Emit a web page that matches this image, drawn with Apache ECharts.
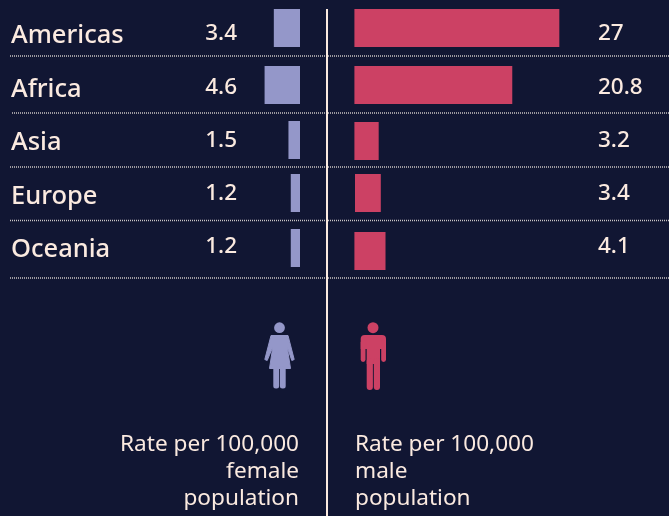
<!DOCTYPE html>
<html>
<head>
<meta charset="utf-8">
<style>
html,body{margin:0;padding:0;background:#111633;}
#main{width:669px;height:516px;}
</style>
<script src="https://cdn.jsdelivr.net/npm/echarts@6/dist/echarts.min.js"></script>
</head>
<body>
<div id="main"></div>
<script>
var regions = ['Americas', 'Africa', 'Asia', 'Europe', 'Oceania'];
var femaleRate = [3.4, 4.6, 1.5, 1.2, 1.2];
var maleRate = [27, 20.8, 3.2, 3.4, 4.1];

// row layout, the rows of the original are not evenly spaced or even aligned across the centre
var rowTopLeft = [9, 66, 121, 174, 229];
var rowTopRight = [9, 66, 122, 174, 232];
var rowRightLeft = [354.4, 354.4, 354.4, 355, 354.4];
var nameY = [36, 90, 143, 197, 250];
var valueY = [33.5, 87.5, 140.5, 193.5, 246.5];
var ruleY = [56, 113, 167, 220.5, 278];
var ruleX = [10, 12, 10, 10, 10];

var bg = '#111633', ink = '#fbeae0', lilac = '#9497c9', red = '#cc4164';
var font = '"Noto Sans", "Open Sans", sans-serif';
var maxRate = 30;

var grid = [], xAxis = [], yAxis = [], series = [], graphic = [];

function addBar(index, left, top, width, inverse, value, color, name) {
    grid.push({left: left, top: top, width: width, height: 38});
    xAxis.push({gridIndex: grid.length - 1, type: 'value', min: 0, max: maxRate, inverse: inverse, show: false});
    yAxis.push({gridIndex: grid.length - 1, type: 'category', data: [regions[index]], show: false});
    series.push({
        name: name,
        type: 'bar',
        xAxisIndex: grid.length - 1,
        yAxisIndex: grid.length - 1,
        barWidth: 38,
        silent: true,
        itemStyle: {color: color},
        data: [value]
    });
}

function addText(text, x, y, size, align, weight) {
    graphic.push({
        type: 'text', x: x, y: y, silent: true,
        style: {text: text, fill: ink, font: weight + ' ' + size + 'px ' + font, textAlign: align, textVerticalAlign: 'middle'}
    });
}

regions.forEach(function (name, i) {
    addBar(i, 69, rowTopLeft[i], 231, true, femaleRate[i], lilac, 'Female');
    addBar(i, rowRightLeft[i], rowTopRight[i], 227.7, false, maleRate[i], red, 'Male');

    addText(name, 11, nameY[i], 25.5, 'left', 500);
    addText(String(femaleRate[i]), 237, valueY[i], 22.5, 'right', 500);
    addText(String(maleRate[i]), 598, valueY[i], 22.5, 'left', 500);

    graphic.push({
        type: 'line', silent: true,
        shape: {x1: ruleX[i], y1: ruleY[i], x2: 669, y2: ruleY[i]},
        style: {stroke: '#c9c4c4', lineWidth: 1.5, lineDash: [1, 1]}
    });
});

// centre line
graphic.push({
    type: 'line', silent: true, z: 10,
    shape: {x1: 327, y1: 9, x2: 327, y2: 516},
    style: {stroke: ink, lineWidth: 2}
});

// captions
addText('Rate per 100,000', 299, 445, 22.6, 'right', 400);
addText('female', 299, 472, 22.6, 'right', 400);
addText('population', 299, 499, 22.6, 'right', 400);
addText('Rate per 100,000', 355, 445, 22.6, 'left', 400);
addText('male', 355, 472, 22.6, 'left', 400);
addText('population', 355, 499, 22.6, 'left', 400);

// female icon
graphic.push({type: 'circle', silent: true, shape: {cx: 279.5, cy: 327.7, r: 5.4}, style: {fill: lilac}});
graphic.push({
    type: 'polygon', silent: true,
    shape: {points: [[271, 335.5], [288, 335.5], [294.2, 359.5], [291.8, 360.5], [287.2, 347], [290.5, 368.5], [269.5, 368.5], [272.8, 347], [267.2, 360.5], [264.8, 359.5]]},
    style: {fill: lilac, stroke: lilac, lineWidth: 1, lineJoin: 'round'}
});
graphic.push({type: 'rect', silent: true, shape: {x: 273.3, y: 366, width: 5.8, height: 22.5, r: 2.5}, style: {fill: lilac}});
graphic.push({type: 'rect', silent: true, shape: {x: 279.9, y: 366, width: 5.8, height: 22.5, r: 2.5}, style: {fill: lilac}});

// male icon
graphic.push({type: 'circle', silent: true, shape: {cx: 373, cy: 327.7, r: 5.5}, style: {fill: red}});
graphic.push({type: 'rect', silent: true, shape: {x: 360.7, y: 335, width: 25.3, height: 14, r: [4, 4, 0, 0]}, style: {fill: red}});
graphic.push({type: 'rect', silent: true, shape: {x: 360.7, y: 340, width: 4.8, height: 22, r: 2.4}, style: {fill: red}});
graphic.push({type: 'rect', silent: true, shape: {x: 381.2, y: 340, width: 4.8, height: 22, r: 2.4}, style: {fill: red}});
graphic.push({type: 'rect', silent: true, shape: {x: 366.7, y: 340, width: 13.3, height: 24}, style: {fill: red}});
graphic.push({type: 'rect', silent: true, shape: {x: 366.7, y: 358, width: 6.2, height: 32, r: 3}, style: {fill: red}});
graphic.push({type: 'rect', silent: true, shape: {x: 373.8, y: 358, width: 6.2, height: 32, r: 3}, style: {fill: red}});

var myChart = echarts.init(document.getElementById('main'), null, {renderer: 'canvas'});
myChart.setOption({
    backgroundColor: bg,
    animation: false,
    grid: grid,
    xAxis: xAxis,
    yAxis: yAxis,
    series: series,
    graphic: graphic
});
</script>
</body>
</html>
